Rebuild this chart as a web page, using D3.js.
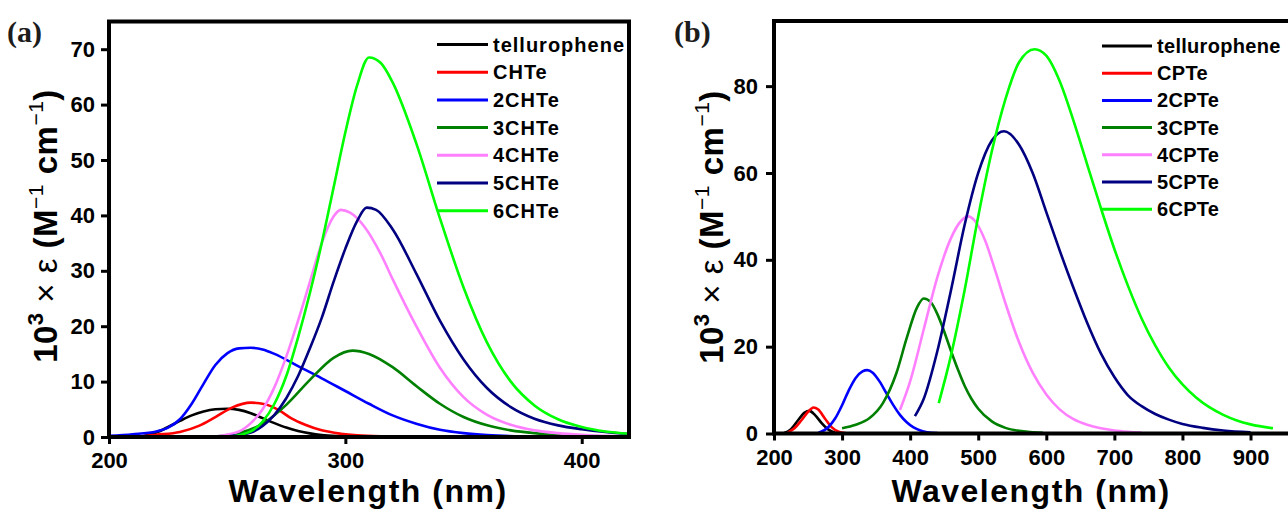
<!DOCTYPE html>
<html>
<head>
<meta charset="utf-8">
<script src="https://cdn.jsdelivr.net/npm/d3@7/dist/d3.min.js"></script>
<style>
  body { margin: 0; background: #fff; }
  svg { display: block; font-family: "Liberation Sans", Arial, sans-serif; }
</style>
</head>
<body>
<svg width="1288" height="510"></svg>
<script>
// ---- data: [wavelength nm, 10^3 x epsilon] ----
const namesA = ["tellurophene", "CHTe", "2CHTe", "3CHTe", "4CHTe", "5CHTe", "6CHTe"];
const namesB = ["tellurophene", "CPTe", "2CPTe", "3CPTe", "4CPTe", "5CPTe", "6CPTe"];

const xTicksA = [200, 300, 400];
const yTicksA = [0, 10, 20, 30, 40, 50, 60, 70];
const xTicksB = [200, 300, 400, 500, 600, 700, 800, 900];
const yTicksB = [0, 20, 40, 60, 80];

// panel (a)
const tellurophene_a = [[214,0.1],[220,0.8],[225,1.8],[230,2.9],[235,3.9],[240,4.6],[245,5.0],[250,5.1],[255,4.9],[260,4.3],[265,3.4],[270,2.5],[275,1.7],[280,1.1],[285,0.65],[290,0.35],[297,0.15],[305,0.05]];
const CHTe = [[213,0.1],[220,0.4],[230,0.9],[238,2.0],[245,3.6],[252,5.3],[260,6.2],[266,5.9],[272,4.8],[277,3.4],[283,2.2],[290,1.2],[298,0.6],[305,0.3],[315,0.12],[328,0.05]];
const CHTe2 = [[200,0.2],[210,0.5],[220,1.0],[225,1.7],[230,3.2],[235,6.0],[240,9.6],[245,13.0],[250,15.1],[255,16.0],[260,16.1],[265,15.8],[270,15.0],[280,12.8],[290,10.6],[300,8.3],[310,6.0],[320,3.9],[330,2.4],[340,1.3],[350,0.7],[360,0.35],[375,0.12],[395,0.04]];
const CHTe3 = [[245,0.1],[255,0.7],[265,2.4],[275,5.8],[285,10.3],[295,14.3],[303,15.6],[310,15.0],[320,12.6],[330,9.2],[340,6.0],[350,3.6],[360,2.1],[370,1.2],[380,0.7],[390,0.4],[400,0.22],[420,0.08]];
const CHTe4 = [[245,0.1],[255,1.0],[260,2.5],[265,5.0],[270,9.0],[275,14.5],[280,21.0],[285,28.0],[290,35.0],[295,39.8],[298,41.0],[302,40.5],[308,38.0],[315,33.0],[320,28.5],[330,20.0],[340,12.5],[350,7.2],[360,4.0],[370,2.2],[380,1.2],[390,0.7],[400,0.4],[410,0.2],[420,0.12]];
const CHTe5 = [[250,0.1],[260,0.8],[265,2.0],[270,4.0],[275,7.0],[280,11.0],[285,16.0],[290,21.5],[295,28.0],[300,34.0],[305,39.0],[309,41.4],[313,41.0],[320,37.5],[330,29.5],[340,21.0],[350,14.0],[360,8.8],[370,5.4],[380,3.3],[390,2.1],[400,1.4],[410,0.9],[420,0.55]];
const CHTe6 = [[252,0.1],[260,1.0],[265,2.8],[270,6.0],[275,11.0],[280,18.0],[285,26.0],[290,35.0],[295,45.0],[300,55.0],[305,63.5],[310,68.5],[315,67.5],[320,64.0],[330,53.0],[340,39.5],[350,27.0],[360,17.0],[370,10.0],[380,5.7],[390,3.2],[400,1.8],[410,1.0],[420,0.6]];

// panel (b)
const tellurophene_b = [[215,0.1],[225,1.0],[235,3.0],[245,4.8],[252,5.2],[260,4.3],[270,2.4],[280,0.9],[290,0.2]];
const CPTe = [[220,0.2],[230,1.2],[240,3.0],[250,5.0],[258,6.0],[265,5.5],[275,3.4],[285,1.4],[295,0.4],[305,0.1]];
const CPTe2 = [[265,0.1],[280,1.5],[290,3.5],[300,6.5],[310,10.0],[320,12.8],[330,14.3],[337,14.6],[345,14.0],[355,12.0],[365,9.3],[375,6.6],[385,4.3],[395,2.6],[405,1.4],[415,0.7],[425,0.3],[440,0.1]];
const CPTe3 = [[300,1.2],[320,2.0],[340,3.5],[360,7.0],[380,14.0],[395,22.0],[410,29.0],[420,31.1],[430,30.3],[440,27.5],[450,23.5],[460,19.0],[470,14.8],[480,11.0],[490,8.0],[500,5.7],[520,2.8],[540,1.3],[560,0.6],[580,0.3],[595,0.15]];
const CPTe4 = [[385,5.4],[400,12.0],[420,24.0],[440,36.0],[460,45.0],[475,49.0],[485,50.0],[495,49.0],[510,44.5],[525,37.5],[540,30.0],[560,21.0],[580,14.0],[600,9.0],[620,5.5],[640,3.3],[660,2.0],[680,1.2],[700,0.7],[720,0.4],[740,0.2]];
const CPTe5 = [[407,4.0],[420,8.0],[440,19.0],[460,33.0],[480,48.0],[500,60.0],[520,67.5],[538,69.6],[560,66.5],[580,60.0],[600,51.0],[620,42.0],[640,33.5],[660,25.5],[680,18.5],[700,13.0],[720,8.8],[740,6.3],[760,4.5],[780,3.2],[800,2.2],[830,1.3],[860,0.7],[900,0.3]];
const CPTe6 = [[442,7.0],[460,18.0],[480,33.0],[500,50.0],[520,65.0],[540,77.0],[560,85.5],[583,88.5],[600,87.0],[620,81.0],[640,72.0],[660,62.0],[680,52.0],[700,42.5],[720,34.0],[740,26.5],[760,20.3],[780,15.2],[800,11.3],[820,8.3],[840,6.0],[860,4.3],[880,3.0],[900,2.1],[933,1.2]];

const seriesA = [tellurophene_a, CHTe, CHTe2, CHTe3, CHTe4, CHTe5, CHTe6];
const seriesB = [tellurophene_b, CPTe, CPTe2, CPTe3, CPTe4, CPTe5, CPTe6];

// ---- styles ----
const colors = ["#000000", "#ff0000", "#0000ff", "#008000", "#ff80ff", "#000080", "#00ff00"];

const svg = d3.select("svg");

const drawPanel = (opt) => {
  const x = d3.scaleLinear().domain(opt.xDomain).range(opt.xRange);
  const y = d3.scaleLinear().domain(opt.yDomain).range(opt.yRange);
  const g = svg.append("g");

  // curves
  const line = d3.line()
    .x(d => x(d[0]))
    .y(d => y(d[1]))
    .curve(d3.curveMonotoneX);
  g.selectAll("path.curve").data(opt.series).enter().append("path")
    .attr("class", "curve")
    .attr("d", line)
    .attr("fill", "none")
    .attr("stroke", (d, i) => colors[i])
    .attr("stroke-width", 2.6);

  // axes
  const xAxis = g.append("g")
    .attr("transform", `translate(0,${opt.yRange[0]})`)
    .call(d3.axisBottom(x).tickValues(opt.xTicks).tickSize(7).tickSizeOuter(0).tickPadding(opt.xPad));
  const yAxis = g.append("g")
    .attr("transform", `translate(${opt.xRange[0]},0)`)
    .call(d3.axisLeft(y).tickValues(opt.yTicks).tickSize(8).tickSizeOuter(0).tickPadding(opt.yPad));
  [xAxis, yAxis].forEach(a => {
    a.select(".domain").remove();
    a.selectAll(".tick line").attr("stroke", "#000").attr("stroke-width", 3);
    a.selectAll(".tick text")
      .attr("fill", "#000")
      .style("font-size", "22px")
      .style("font-weight", "bold")
      .style("font-family", "'Liberation Sans', Arial, sans-serif");
  });

  // frame
  g.append("path")
    .attr("d", `M${opt.xRange[0]},${opt.yRange[0]}V${opt.yRange[1]}H${opt.xRange[1]}V${opt.yRange[0]}Z`)
    .attr("fill", "none")
    .attr("stroke", "#000")
    .attr("stroke-width", 4);

  // legend
  const leg = g.selectAll("g.leg").data(opt.names).enter().append("g")
    .attr("class", "leg")
    .attr("transform", (d, i) => `translate(${opt.legX},${opt.legY + i * opt.legStep})`);
  leg.append("line")
    .attr("x1", 0).attr("x2", opt.legLen)
    .attr("stroke", (d, i) => colors[i])
    .attr("stroke-width", 3);
  leg.append("text")
    .attr("x", opt.legLen + 5)
    .attr("y", 7)
    .style("font-size", "20px")
    .style("font-weight", "bold")
    .style("letter-spacing", opt.legSpacing)
    .text(d => d);

  // x label
  g.append("text")
    .attr("x", opt.xLabel[0]).attr("y", opt.xLabel[1])
    .attr("text-anchor", "middle")
    .style("font-size", "32px")
    .style("font-weight", "bold")
    .style("letter-spacing", "1.5px")
    .text("Wavelength (nm)");

  // y label
  const yl = g.append("text")
    .attr("transform", `translate(${opt.yLabel[0]},${opt.yLabel[1]}) rotate(-90)`)
    .attr("text-anchor", "middle")
    .style("font-size", "33px")
    .style("font-weight", "bold")
    .style("letter-spacing", "0.5px");
  yl.append("tspan").text("10");
  yl.append("tspan").attr("dy", -14).style("font-size", "22px").text("3");
  yl.append("tspan").attr("dy", 14).style("font-weight", "normal").text(" \u00d7 \u03b5 ");
  yl.append("tspan").text("(M");
  yl.append("tspan").attr("dy", -14).style("font-size", "21px").style("font-weight", "normal").text("\u22121");
  yl.append("tspan").attr("dy", 14).text(" cm");
  yl.append("tspan").attr("dy", -14).style("font-size", "21px").style("font-weight", "normal").text("\u22121");
  yl.append("tspan").attr("dy", 14).text(")");

  // panel letter
  g.append("text")
    .attr("x", opt.letter[0]).attr("y", opt.letter[1])
    .style("font-family", "'Liberation Serif', 'DejaVu Serif', serif")
    .style("font-size", "30px")
    .style("font-weight", "bold")
    .attr("fill", "#1c1c1c")
    .text(opt.letterText);
};

drawPanel({
  series: seriesA, names: namesA,
  xDomain: [200, 420], xRange: [109, 629],
  yDomain: [0, 75], yRange: [437, 21.5],
  xTicks: xTicksA, yTicks: yTicksA, xPad: 8, yPad: 6,
  legX: 437, legY: 44.5, legStep: 27.7, legLen: 51, legSpacing: "1px",
  xLabel: [368, 502], yLabel: [57, 226],
  letter: [7, 42], letterText: "(a)"
});

drawPanel({
  series: seriesB, names: namesB,
  xDomain: [200, 958], xRange: [774, 1290],
  yDomain: [0, 95], yRange: [433.5, 21],
  xTicks: xTicksB, yTicks: yTicksB, xPad: 9, yPad: 8,
  legX: 1102, legY: 46, legStep: 27.2, legLen: 50, legSpacing: "0.3px",
  xLabel: [1031, 502], yLabel: [723, 227],
  letter: [674, 42], letterText: "(b)"
});
</script>
</body>
</html>
